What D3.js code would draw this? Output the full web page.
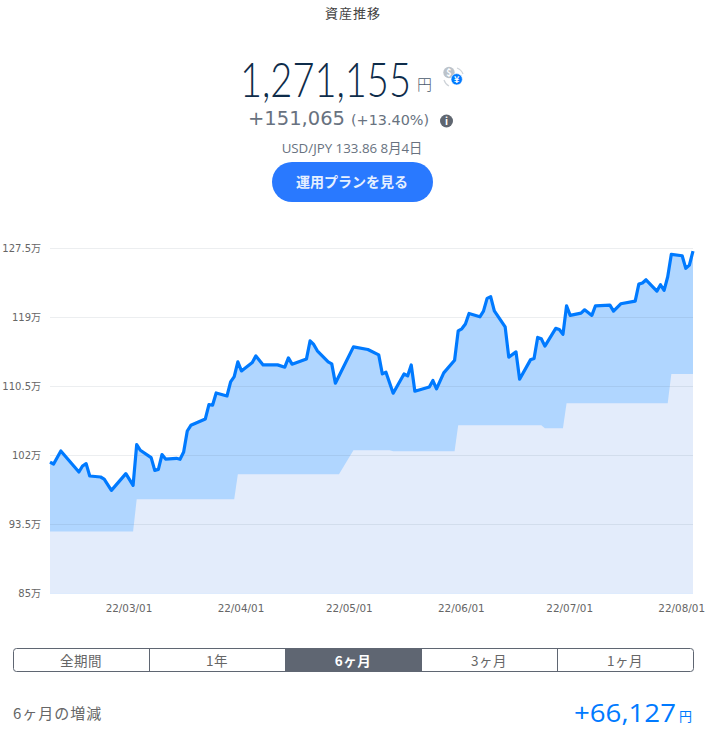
<!DOCTYPE html>
<html lang="ja">
<head>
<meta charset="utf-8">
<title>資産推移</title>
<script src="https://cdn.jsdelivr.net/npm/d3@7"></script>
<style>
html,body{margin:0;padding:0;background:#fff;overflow:hidden}
svg{display:block}
text{font-family:"Noto Sans CJK JP","Open Sans",sans-serif}
.num{font-family:"Open Sans","Noto Sans CJK JP",sans-serif}
.wide{font-family:"DejaVu Sans","Noto Sans CJK JP",sans-serif}
.thin{font-family:Lato,Roboto,"Open Sans",sans-serif}
.axis path,.axis line{display:none}
.axis text{font-family:"DejaVu Sans","Noto Sans CJK JP",sans-serif;fill:#666}
</style>
</head>
<body>
<svg id="chart" width="708" height="730"></svg>
<script>
// Valuation series: days since the first date, and amount in units of 万円
const startDate = new Date(2022, 1, 7);
const valueDays = [0,1,3,8,9,10,11,14,15,17,21,23,24,25,28,29,30,31,32,35,36,37,38,39,43,44,45,46,49,50,51,52,53,56,57,59,63,65,66,67,71,72,73,74,77,78,79,84,88,91,92,93,95,98,99,100,101,105,106,107,109,112,113,114,115,116,119,120,121,122,123,126,127,129,130,133,134,135,136,137,140,141,142,143,144,147,148,150,151,155,156,158,162,163,164,165,168,169,170,171,172,175,176,177,178];
const valueAmounts = [101.17,100.93,102.53,99.94,100.68,100.98,99.45,99.33,99.08,97.69,99.75,98.30,103.32,102.62,101.72,100.15,100.27,102.09,101.54,101.63,101.51,102.41,104.99,105.69,106.47,108.24,108.16,109.67,109.30,111.03,111.67,113.49,112.38,113.42,114.23,113.12,113.12,112.84,113.98,113.21,113.86,116.08,115.64,114.85,113.49,113.25,110.87,115.34,115.02,114.35,112.01,112.22,109.64,112.01,111.77,113.12,109.88,110.41,111.20,110.17,112.14,113.70,117.31,117.56,118.14,119.45,119.04,119.74,121.30,121.50,119.77,117.80,114.07,114.72,111.36,113.74,113.91,116.50,116.33,115.43,117.61,117.48,116.87,120.39,119.21,119.49,119.90,119.21,120.39,120.48,119.74,120.64,120.97,123.06,123.19,123.59,122.20,122.98,122.29,123.96,126.72,126.55,125.00,125.40,127.12];

// Invested principal, which moves in steps
const principalDays = [0,23,24,51,52,80,84,94,95,112,113,136,137,142,143,171,172,178];
const principalAmounts = [92.64,92.64,96.58,96.58,99.66,99.66,102.62,102.62,102.49,102.49,105.69,105.69,105.33,105.33,108.40,108.40,112.01,112.01];

const yTicks = [85,93.5,102,110.5,119,127.5];
const xTickDates = ["2022-03-01","2022-04-01","2022-05-01","2022-06-01","2022-07-01","2022-08-01"];
const periodLabels = ["全期間","1年","6ヶ月","3ヶ月","1ヶ月"];
const activePeriod = 2;

const svg = d3.select("#chart");
const dayToDate = d => d3.timeDay.offset(startDate, d);
const parseDay = d3.timeParse("%Y-%m-%d");

const x = d3.scaleTime().domain([dayToDate(0), dayToDate(178)]).range([50, 693]);
const y = d3.scaleLinear().domain([85, 127.5]).range([593.5, 248]);

const valuePoints = valueDays.map((d, i) => [dayToDate(d), valueAmounts[i]]);
const principalPoints = principalDays.map((d, i) => [dayToDate(d), principalAmounts[i]]);

// Stacked areas
const area = d3.area().x(d => x(d[0])).y0(y(85)).y1(d => y(d[1]));
svg.append("path").datum(valuePoints).attr("d", area)
  .attr("fill", "#007aff").attr("fill-opacity", 0.31);
svg.append("path").datum(principalPoints).attr("d", area).attr("fill", "#e3ecfb");

// Horizontal grid sits over the fills and shows through as a faint darker rule
svg.append("g").selectAll("line").data(yTicks.slice(1)).join("line")
  .attr("x1", 50).attr("x2", 693)
  .attr("y1", d => Math.floor(y(d)) + 0.5).attr("y2", d => Math.floor(y(d)) + 0.5)
  .attr("stroke", "#46586e").attr("stroke-opacity", 0.1).attr("stroke-width", 1);

// Valuation line
svg.append("path").datum(valuePoints)
  .attr("d", d3.line().x(d => x(d[0])).y(d => y(d[1])))
  .attr("fill", "none").attr("stroke", "#007aff")
  .attr("stroke-width", 3.2).attr("stroke-linejoin", "round");

// Axes
svg.append("g").attr("class", "axis").attr("transform", "translate(50,0)")
  .call(d3.axisLeft(y).tickValues(yTicks).tickSize(0).tickPadding(9).tickFormat(d => d + "万"))
  .selectAll("text").style("font-size", "10px");
svg.append("g").attr("class", "axis").attr("transform", "translate(-1,602)")
  .call(d3.axisBottom(x).tickValues(xTickDates.map(parseDay)).tickSize(0).tickPadding(3)
    .tickFormat(d3.timeFormat("%y/%m/%d")))
  .selectAll("text").style("font-size", "10.4px");

// Text helper; `fit` squeezes a run horizontally to the given width from its end anchor
function label(str, px, py, size, color, opts = {}) {
  const t = svg.append("text").attr("x", px).attr("y", py)
    .attr("text-anchor", opts.anchor || "middle")
    .attr("font-size", size).attr("fill", color)
    .attr("font-weight", opts.weight || 400)
    .attr("class", opts.cls || null)
    .style("letter-spacing", opts.spacing || null)
    .text(str);
  if (opts.fit) {
    const k = opts.fit / t.node().getComputedTextLength();
    t.attr("transform", `translate(${px},0) scale(${k},1) translate(${-px},0)`);
  }
  return t;
}

// Header block
label("資産推移", 353, 18, 13, "#444", {spacing: "1px"});
label("1,271,155", 240, 97, 48, "#0e2c4a", {anchor: "start", weight: 300, cls: "thin", fit: 171});
label("円", 424.5, 90, 15, "#4a5a6c", {weight: 300});
label("+151,065", 248, 125, 19.5, "#687280", {anchor: "start", cls: "wide"});
label("(+13.40%)", 351, 125, 14.4, "#687280", {anchor: "start", cls: "wide"});
label("USD/JPY 133.86 8月4日", 352, 153, 13.3, "#687280", {cls: "num"});

// Info badge
svg.append("circle").attr("cx", 446.5).attr("cy", 121).attr("r", 6.5).attr("fill", "#5f6670");
label("i", 446.5, 125, 10, "#fff", {weight: 700});

// Currency switch badge
const badge = svg.append("g");
badge.append("path").attr("d", "M457 68a10 10 0 0 1 6 6M444 80a10 10 0 0 0 5 6")
  .attr("fill", "none").attr("stroke", "#cfd4d9").attr("stroke-width", 1.2);
badge.append("circle").attr("cx", 449).attr("cy", 72.5).attr("r", 5.7).attr("fill", "#bcc3ca");
label("$", 449, 76, 9, "#fff", {weight: 700});
badge.append("circle").attr("cx", 456.7).attr("cy", 79.3).attr("r", 5.7).attr("fill", "#007aff")
  .attr("stroke", "#fff").attr("stroke-width", 0.6);
label("¥", 456.7, 82.5, 9, "#fff", {weight: 700});

// Call-to-action button
svg.append("rect").attr("x", 272).attr("y", 162).attr("width", 161).attr("height", 40)
  .attr("rx", 20).attr("fill", "#2979ff");
label("運用プランを見る", 352, 187, 14, "#e6f0ff", {weight: 700});

// Period selector
const band = d3.scaleBand().domain(d3.range(periodLabels.length)).range([13, 693]);
const selector = svg.append("g");
selector.append("rect").attr("x", band(activePeriod) + 0.5).attr("y", 648.5)
  .attr("width", band.bandwidth()).attr("height", 23).attr("fill", "#5f6672");
selector.selectAll("line").data(d3.range(1, periodLabels.length)).join("line")
  .attr("x1", d => band(d) + 0.5).attr("x2", d => band(d) + 0.5)
  .attr("y1", 648.5).attr("y2", 671.5).attr("stroke", "#5f6672");
selector.append("rect").attr("x", 13.5).attr("y", 648.5).attr("width", 680).attr("height", 23)
  .attr("rx", 3).attr("fill", "none").attr("stroke", "#5f6672");
periodLabels.forEach((t, i) => {
  label(t, band(i) + band.bandwidth() / 2, 665.5, 13.5, i === activePeriod ? "#fff" : "#666",
    {weight: i === activePeriod ? 700 : 400, spacing: "0.5px"});
});

// Period change summary
label("6ヶ月の増減", 13, 718.5, 15, "#666", {anchor: "start", spacing: "1px"});
label("+66,127", 574, 722, 26, "#007aff", {anchor: "start", cls: "num", fit: 102});
label("円", 685.5, 721, 13, "#007aff");
</script>
</body>
</html>
